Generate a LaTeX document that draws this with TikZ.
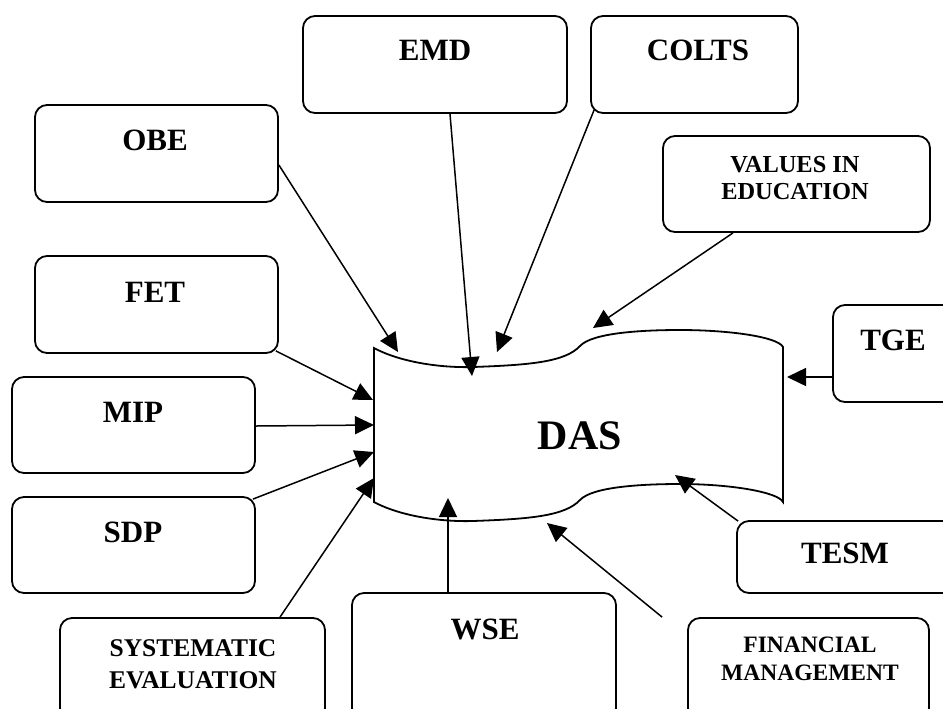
\documentclass[tikz,border=0pt]{standalone}
\usepackage{fontspec}
\setmainfont{Liberation Serif}
\usetikzlibrary{arrows.meta,calc}
\begin{document}
\begin{tikzpicture}[x=0.5pt,y=-0.5pt,
  box/.style={draw, line width=0.9pt, rounded corners=6pt, inner sep=0pt},
  lbl/.style={font=\fontsize{15.5}{18}\selectfont\bfseries, inner sep=0pt},
  lblsm/.style={font=\fontsize{12}{13.5}\selectfont\bfseries, align=center, inner sep=0pt},
  feed/.style={line width=0.75pt, -{Triangle[length=9.5pt,width=9pt]}},
]
\useasboundingbox (0,0) rectangle (943,708);

% central DAS banner
\draw[line width=0.9pt]
  (374,348) .. controls (400,362) and (440,368) .. (473,367)
  .. controls (530,365) and (565,362) .. (580,346)
  .. controls (592,333) and (640,330) .. (680,330)
  .. controls (730,330) and (778,337) .. (783,347)
  -- (783,502)
  .. controls (778,492) and (730,484) .. (680,484)
  .. controls (640,484) and (592,487) .. (580,500)
  .. controls (565,516) and (530,519) .. (473,521)
  .. controls (440,522) and (400,516) .. (374,502)
  -- cycle;
\node[font=\fontsize{21}{24}\selectfont\bfseries, inner sep=0pt] (das) at (580,436) {DAS};

% arrow tips on the banner outline
\coordinate (t-obe) at (398,352);
\coordinate (t-emd) at (472,376);
\coordinate (t-colts) at (497,352);
\coordinate (t-values) at (593,328);
\coordinate (t-tge) at (787,377);
\coordinate (t-fet) at (373,400);
\coordinate (t-mip) at (374,425);
\coordinate (t-sdp) at (374,452);
\coordinate (t-se) at (374,478);
\coordinate (t-wse) at (448,498);
\coordinate (t-fm) at (547,523);
\coordinate (t-tesm) at (675,475);

% surrounding boxes
\node[box, minimum width=121.5pt, minimum height=48.5pt] (obe) at (156.5,153.5) {};
\node[box, minimum width=121.5pt, minimum height=48.5pt] (fet) at (156.5,304.5) {};
\node[box, minimum width=132pt, minimum height=48.5pt] (emd) at (435,64.5) {};
\node[box, minimum width=103.5pt, minimum height=48.5pt] (colts) at (694.5,64.5) {};
\node[box, minimum width=133.5pt, minimum height=48pt] (values) at (796.5,184) {};
\node[box, minimum width=63.5pt, minimum height=48.5pt] (tge) at (896.5,353.5) {};
\node[box, minimum width=121.5pt, minimum height=48pt] (mip) at (133.5,425) {};
\node[box, minimum width=121.5pt, minimum height=48pt] (sdp) at (133.5,545) {};
\node[box, minimum width=132.5pt, minimum height=51pt] (se) at (192.5,669) {};
\node[box, minimum width=132pt, minimum height=63.5pt] (wse) at (484,656.5) {};
\node[box, minimum width=111.5pt, minimum height=36pt] (tesm) at (848.5,557) {};
\node[box, minimum width=120.5pt, minimum height=51pt] (fm) at (808.5,669) {};

% box labels
\node[lbl] (obe-t) at (155,140) {OBE};
\node[lbl] (fet-t) at (155,292) {FET};
\node[lbl] (emd-t) at (435,50) {EMD};
\node[lbl] (colts-t) at (698,50) {COLTS};
\node[lblsm, font=\fontsize{12.2}{13.5}\selectfont\bfseries] (values-t) at (795,178.5) {VALUES IN\\EDUCATION};
\node[lbl] (tge-t) at (893,340) {TGE};
\node[lbl] (mip-t) at (133,412) {MIP};
\node[lbl] (sdp-t) at (133,532) {SDP};
\node[lblsm, font=\fontsize{12.75}{16}\selectfont\bfseries] (se-t) at (193,664) {SYSTEMATIC\\EVALUATION};
\node[lbl] (wse-t) at (485,629) {WSE};
\node[lbl] (tesm-t) at (845,553) {TESM};
\node[lblsm, font=\fontsize{11.75}{14}\selectfont\bfseries] (fm-t) at (810,659) {FINANCIAL\\MANAGEMENT};

% connectors into DAS
\draw[feed] ($(obe.east)+(0,11.5)$) -- (t-obe);
\draw[feed] ($(emd.south)+(15,0)$) -- (t-emd);
\draw[feed] ($(colts.south west)+(4,-4)$) -- (t-colts);
\draw[feed] ($(values.south)+(-63.5,0)$) -- (t-values);
\draw[feed] ($(tge.west)+(0,23.5)$) -- (t-tge);
\draw[feed] ($(fet.south east)+(-3,-3)$) -- (t-fet);
\draw[feed] ($(mip.east)+(0,1)$) -- (t-mip);
\draw[feed] ($(sdp.north east)+(-3,3)$) -- (t-sdp);
\draw[feed] ($(se.north)+(87.5,0)$) -- (t-se);
\draw[feed] ($(wse.north)+(-36,0)$) -- (t-wse);
\draw[feed] ($(fm.north west)+(-25,0)$) -- (t-fm);
\draw[feed] ($(tesm.north west)+(2,1)$) -- (t-tesm);
\end{tikzpicture}
\end{document}
